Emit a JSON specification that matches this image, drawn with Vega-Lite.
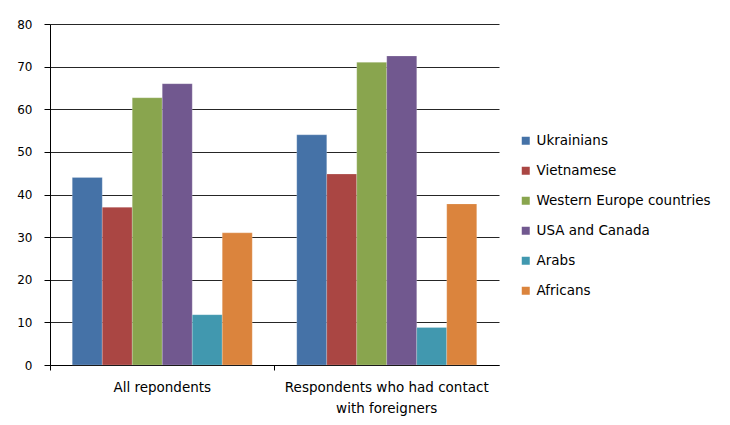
{
  "$schema": "https://vega.github.io/schema/vega-lite/v6.json",
  "width": 449,
  "height": 341,
  "padding": {"left": 16, "top": 18, "right": 5, "bottom": 5},
  "background": "white",
  "data": {
    "values": [
      {"group": "All repondents", "nation": "Ukrainians", "value": 44},
      {"group": "All repondents", "nation": "Vietnamese", "value": 37},
      {"group": "All repondents", "nation": "Western Europe countries", "value": 62.7},
      {"group": "All repondents", "nation": "USA and Canada", "value": 66},
      {"group": "All repondents", "nation": "Arabs", "value": 11.8},
      {"group": "All repondents", "nation": "Africans", "value": 31},
      {"group": "Respondents who had contact with foreigners", "nation": "Ukrainians", "value": 54},
      {"group": "Respondents who had contact with foreigners", "nation": "Vietnamese", "value": 44.8},
      {"group": "Respondents who had contact with foreigners", "nation": "Western Europe countries", "value": 71},
      {"group": "Respondents who had contact with foreigners", "nation": "USA and Canada", "value": 72.5},
      {"group": "Respondents who had contact with foreigners", "nation": "Arabs", "value": 8.8},
      {"group": "Respondents who had contact with foreigners", "nation": "Africans", "value": 37.8}
    ]
  },
  "mark": {"type": "bar", "stroke": "#ffffff", "strokeOpacity": 0.4, "strokeWidth": 0.5},
  "encoding": {
    "x": {
      "field": "group",
      "type": "nominal",
      "sort": null,
      "scale": {"paddingInner": 0, "paddingOuter": 0},
      "axis": {
        "title": null,
        "labelAngle": 0,
        "bandPosition": 0,
        "tickSize": 5,
        "tickColor": "#000000",
        "domainColor": "#000000",
        "labelPadding": 10,
        "labelLineHeight": 21,
        "labelLimit": 0,
        "labelFont": "DejaVu Sans",
        "labelFontSize": 13.5,
        "labelColor": "#000000",
        "labelExpr": "datum.value == 'All repondents' ? 'All repondents' : ['Respondents who had contact', 'with foreigners']"
      }
    },
    "xOffset": {
      "field": "nation",
      "type": "nominal",
      "sort": ["Ukrainians", "Vietnamese", "Western Europe countries", "USA and Canada", "Arabs", "Africans"],
      "scale": {"paddingInner": 0, "paddingOuter": 0.742}
    },
    "y": {
      "field": "value",
      "type": "quantitative",
      "scale": {"domain": [0, 80]},
      "axis": {
        "title": null,
        "values": [0, 10, 20, 30, 40, 50, 60, 70, 80],
        "grid": true,
        "gridColor": "#000000",
        "gridWidth": 1,
        "gridOpacity": 0.85,
        "tickSize": 6,
        "tickColor": "#000000",
        "domainColor": "#000000",
        "labelPadding": 12,
        "labelFont": "DejaVu Sans",
        "labelFontSize": 12,
        "labelColor": "#000000"
      }
    },
    "color": {
      "field": "nation",
      "type": "nominal",
      "sort": ["Ukrainians", "Vietnamese", "Western Europe countries", "USA and Canada", "Arabs", "Africans"],
      "scale": {
        "domain": ["Ukrainians", "Vietnamese", "Western Europe countries", "USA and Canada", "Arabs", "Africans"],
        "range": ["#4572A7", "#AA4643", "#89A54E", "#71588F", "#4198AF", "#DB843D"]
      },
      "legend": {
        "title": null,
        "orient": "none",
        "legendX": 469,
        "legendY": 110,
        "symbolType": "square",
        "symbolSize": 64,
        "symbolStrokeWidth": 0,
        "symbolOpacity": 1,
        "labelFont": "DejaVu Sans",
        "labelFontSize": 13.5,
        "labelLimit": 0,
        "labelColor": "#000000",
        "labelOffset": 4,
        "rowPadding": 15
      }
    }
  },
  "config": {
    "view": {"stroke": null},
    "axis": {"domainWidth": 1, "tickWidth": 1}
  }
}
